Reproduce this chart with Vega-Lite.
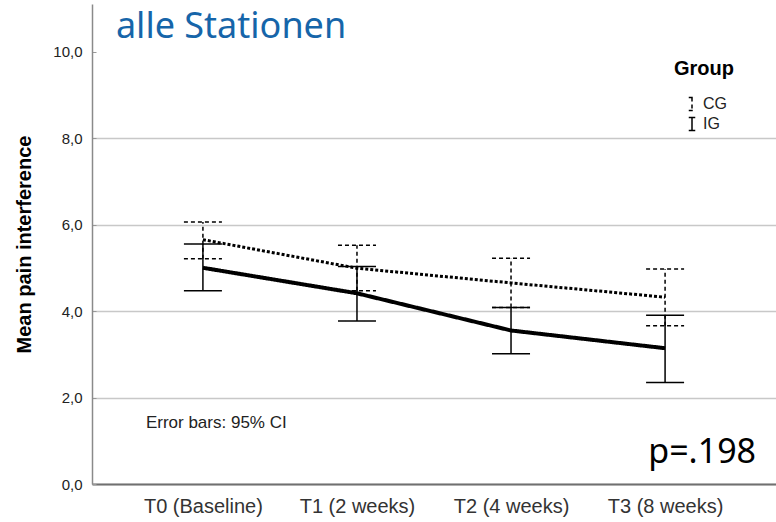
{
  "$schema": "https://vega.github.io/schema/vega-lite/v6.json",
  "width": 684,
  "height": 480,
  "autosize": "none",
  "padding": {"left": 92, "top": 4, "right": 0, "bottom": 38},
  "background": "white",
  "data": {
    "values": [
      {"time": "T0 (Baseline)", "group": "CG", "mean": 5.65, "lower": 5.21, "upper": 6.06},
      {"time": "T1 (2 weeks)", "group": "CG", "mean": 4.99, "lower": 4.47, "upper": 5.52},
      {"time": "T2 (4 weeks)", "group": "CG", "mean": 4.65, "lower": 4.08, "upper": 5.22},
      {"time": "T3 (8 weeks)", "group": "CG", "mean": 4.32, "lower": 3.66, "upper": 4.97},
      {"time": "T0 (Baseline)", "group": "IG", "mean": 5.0, "lower": 4.47, "upper": 5.55},
      {"time": "T1 (2 weeks)", "group": "IG", "mean": 4.41, "lower": 3.77, "upper": 5.03},
      {"time": "T2 (4 weeks)", "group": "IG", "mean": 3.55, "lower": 3.01, "upper": 4.08},
      {"time": "T3 (8 weeks)", "group": "IG", "mean": 3.14, "lower": 2.35, "upper": 3.9}
    ]
  },
  "encoding": {
    "x": {
      "field": "time",
      "type": "nominal",
      "sort": ["T0 (Baseline)", "T1 (2 weeks)", "T2 (4 weeks)", "T3 (8 weeks)"],
      "scale": {"type": "point", "padding": 0.72},
      "axis": {
        "title": null,
        "ticks": false,
        "grid": false,
        "labelAngle": 0,
        "labelFontSize": 20,
        "labelColor": "#333333",
        "labelPadding": 12,
        "domainColor": "#707070",
        "domainWidth": 2
      }
    }
  },
  "layer": [
    {
      "mark": {"type": "rule", "color": "black", "strokeWidth": 1.5},
      "encoding": {
        "y": {
          "field": "lower",
          "type": "quantitative",
          "scale": {"domain": [0, 11.1], "nice": false},
          "axis": {
            "title": "Mean pain interference",
            "titleFontSize": 20,
            "titleFontWeight": "bold",
            "titleColor": "black",
            "titlePadding": 18,
            "values": [0, 2, 4, 6, 8, 10],
            "labelExpr": "replace(format(datum.value, '.1f'), '.', ',')",
            "labelFontSize": 15,
            "labelColor": "#222222",
            "labelPadding": 14,
            "tickSize": -4,
            "tickColor": "#999999",
            "domainColor": "#8a8a8a",
            "domainWidth": 1.5,
            "gridColor": "#c8c8c8",
            "gridWidth": 1.5,
            "gridOpacity": {"condition": {"test": "datum.value >= 10", "value": 0}, "value": 1}
          }
        },
        "y2": {"field": "upper"},
        "strokeDash": {
          "field": "group",
          "type": "nominal",
          "scale": {"domain": ["CG", "IG"], "range": [[4, 3], [1, 0]]},
          "legend": {
            "title": "Group",
            "orient": "none",
            "legendX": 582,
            "legendY": 55,
            "titleFont": "Liberation Sans",
            "titleFontSize": 20,
            "titleFontWeight": "bold",
            "titleColor": "black",
            "titleAnchor": "start",
            "titlePadding": 17,
            "labelFontSize": 16,
            "labelColor": "#222222",
            "labelOffset": 3,
            "symbolType": "M-0.5,-1H0.5M0,-1V1M-0.5,1H0.5",
            "symbolSize": 169,
            "symbolStrokeWidth": 1.5,
            "symbolStrokeColor": "black",
            "symbolFillColor": "transparent",
            "symbolOffset": 10,
            "rowPadding": 0
          }
        }
      }
    },
    {
      "mark": {"type": "rule", "color": "black", "strokeWidth": 1.5, "xOffset": -19, "x2Offset": 19},
      "encoding": {
        "x2": {"field": "time"},
        "y": {"field": "upper", "type": "quantitative"},
        "strokeDash": {
          "field": "group",
          "type": "nominal",
          "scale": {"domain": ["CG", "IG"], "range": [[4, 3], [1, 0]]},
          "legend": null
        }
      }
    },
    {
      "mark": {"type": "rule", "color": "black", "strokeWidth": 1.5, "xOffset": -19, "x2Offset": 19},
      "encoding": {
        "x2": {"field": "time"},
        "y": {"field": "lower", "type": "quantitative"},
        "strokeDash": {
          "field": "group",
          "type": "nominal",
          "scale": {"domain": ["CG", "IG"], "range": [[4, 3], [1, 0]]},
          "legend": null
        }
      }
    },
    {
      "mark": {"type": "line", "color": "black"},
      "encoding": {
        "y": {"field": "mean", "type": "quantitative"},
        "detail": {"field": "group"},
        "strokeDash": {
          "field": "group",
          "type": "nominal",
          "scale": {"domain": ["CG", "IG"], "range": [[3, 2], [1, 0]]},
          "legend": null
        },
        "strokeWidth": {
          "field": "group",
          "type": "nominal",
          "scale": {"domain": ["CG", "IG"], "range": [3, 4]},
          "legend": null
        }
      }
    },
    {
      "data": {"values": [{"note": "alle Stationen"}]},
      "mark": {"type": "text", "align": "left", "baseline": "alphabetic", "dx": -87, "font": "Noto Sans", "fontSize": 36, "color": "#1665a9"},
      "encoding": {
        "x": {"datum": "T0 (Baseline)"},
        "y": {"datum": 10.32},
        "text": {"field": "note"}
      }
    },
    {
      "data": {"values": [{"note": "Error bars: 95% CI"}]},
      "mark": {"type": "text", "align": "left", "baseline": "middle", "dx": -57, "fontSize": 17, "color": "#222222"},
      "encoding": {
        "x": {"datum": "T0 (Baseline)"},
        "y": {"datum": 1.41},
        "text": {"field": "note"}
      }
    },
    {
      "data": {"values": [{"note": "p=.198"}]},
      "mark": {"type": "text", "align": "right", "baseline": "alphabetic", "dx": 91, "font": "Noto Sans", "fontSize": 34, "color": "black"},
      "encoding": {
        "x": {"datum": "T3 (8 weeks)"},
        "y": {"datum": 0.49},
        "text": {"field": "note"}
      }
    }
  ],
  "resolve": {
    "scale": {"strokeDash": "independent", "strokeWidth": "independent"},
    "legend": {"strokeDash": "independent", "strokeWidth": "independent"}
  },
  "config": {
    "view": {"stroke": null},
    "font": "Liberation Sans"
  }
}
